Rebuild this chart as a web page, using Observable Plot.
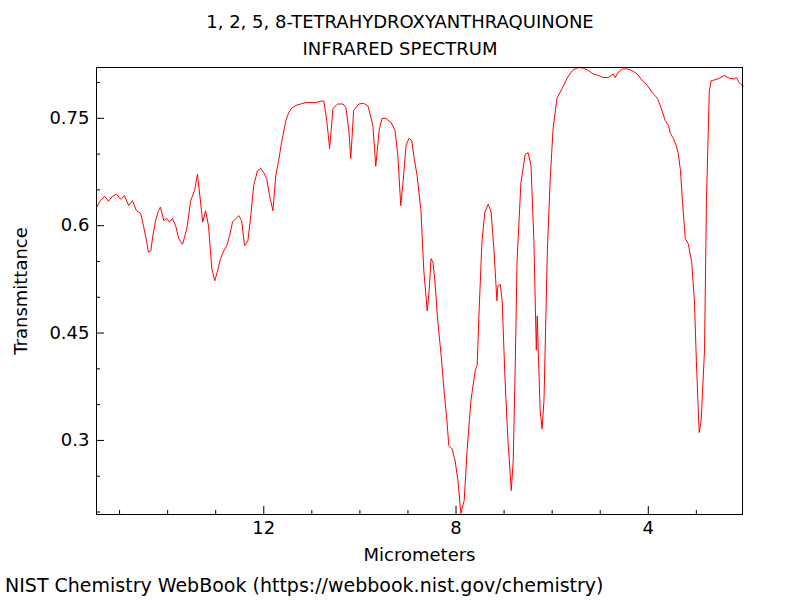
<!DOCTYPE html>
<html><head><meta charset="utf-8">
<script src="https://cdn.jsdelivr.net/npm/d3@7"></script>
<script src="https://cdn.jsdelivr.net/npm/@observablehq/plot@0.6"></script>
<style>
body{margin:0;background:#fff;font-family:"DejaVu Sans",sans-serif;width:800px;}
#title{height:60px;text-align:center;font-size:18px;line-height:27px;padding-top:8px;box-sizing:border-box;}
#cap{font-size:19px;padding-left:5px;margin-top:-6px;white-space:nowrap;}
svg{display:block}
</style></head><body>
<div id="title">1, 2, 5, 8-TETRAHYDROXYANTHRAQUINONE<br>INFRARED SPECTRUM</div>
<div id="chart"></div>
<div id="cap">NIST Chemistry WebBook (https://webbook.nist.gov/chemistry)</div>
<script>
const micrometers=[15.48,15.40,15.31,15.23,15.15,15.06,14.98,14.90,14.81,14.73,14.65,14.56,14.50,14.44,14.40,14.35,14.31,14.25,14.19,14.15,14.08,14.02,13.96,13.90,13.83,13.77,13.69,13.60,13.52,13.44,13.38,13.33,13.27,13.21,13.15,13.08,13.02,12.96,12.90,12.83,12.77,12.71,12.65,12.58,12.52,12.46,12.40,12.33,12.27,12.21,12.13,12.06,12.00,11.94,11.88,11.81,11.75,11.69,11.63,11.54,11.48,11.42,11.33,11.23,11.13,11.02,10.92,10.81,10.75,10.69,10.63,10.56,10.46,10.35,10.29,10.23,10.19,10.13,10.02,9.92,9.83,9.73,9.67,9.60,9.54,9.46,9.35,9.27,9.21,9.15,9.10,9.04,8.98,8.92,8.88,8.81,8.73,8.67,8.60,8.56,8.52,8.48,8.44,8.38,8.31,8.25,8.19,8.15,8.08,8.02,7.96,7.90,7.83,7.77,7.69,7.60,7.56,7.52,7.46,7.40,7.33,7.27,7.21,7.15,7.13,7.08,7.04,6.98,6.92,6.85,6.81,6.77,6.73,6.65,6.56,6.50,6.44,6.38,6.33,6.31,6.29,6.25,6.21,6.17,6.10,6.04,5.98,5.90,5.79,5.69,5.58,5.46,5.35,5.25,5.15,5.04,4.94,4.83,4.73,4.69,4.63,4.54,4.44,4.35,4.23,4.13,4.02,3.92,3.81,3.73,3.65,3.58,3.54,3.48,3.42,3.38,3.33,3.29,3.23,3.17,3.10,3.04,3.00,2.96,2.94,2.90,2.83,2.79,2.73,2.69,2.65,2.52,2.42,2.31,2.21,2.17,2.10,2.02];
const transmittance=[0.626,0.635,0.641,0.634,0.641,0.644,0.637,0.642,0.628,0.635,0.621,0.617,0.599,0.579,0.563,0.565,0.585,0.607,0.621,0.626,0.607,0.610,0.605,0.610,0.599,0.582,0.574,0.596,0.635,0.649,0.672,0.642,0.605,0.621,0.600,0.540,0.523,0.537,0.554,0.565,0.572,0.586,0.605,0.610,0.614,0.607,0.572,0.579,0.614,0.656,0.677,0.680,0.674,0.666,0.642,0.621,0.670,0.691,0.716,0.747,0.758,0.764,0.768,0.770,0.772,0.772,0.772,0.774,0.774,0.747,0.708,0.764,0.770,0.770,0.765,0.733,0.694,0.761,0.770,0.771,0.767,0.740,0.683,0.733,0.750,0.750,0.744,0.733,0.698,0.628,0.663,0.712,0.722,0.719,0.698,0.670,0.621,0.537,0.481,0.509,0.554,0.549,0.523,0.467,0.419,0.370,0.328,0.293,0.288,0.272,0.244,0.198,0.216,0.286,0.356,0.398,0.405,0.481,0.579,0.619,0.630,0.619,0.565,0.495,0.516,0.518,0.495,0.384,0.300,0.230,0.272,0.398,0.551,0.660,0.700,0.702,0.684,0.579,0.426,0.474,0.426,0.342,0.316,0.356,0.565,0.666,0.736,0.778,0.792,0.806,0.817,0.821,0.820,0.817,0.812,0.810,0.807,0.807,0.812,0.807,0.814,0.819,0.819,0.817,0.812,0.803,0.796,0.786,0.778,0.764,0.747,0.740,0.729,0.722,0.712,0.702,0.677,0.635,0.582,0.575,0.551,0.495,0.412,0.342,0.311,0.328,0.426,0.635,0.789,0.803,0.803,0.806,0.810,0.806,0.805,0.807,0.799,0.795];
const xMajor=[12,8,4];
const xMinor=[15,14,13,11,10,9,7,6,5,3];
const yMajor=[0.3,0.45,0.6,0.75];
const yMinor=[0.2,0.25,0.35,0.4,0.5,0.55,0.65,0.7,0.8];
const data=micrometers.map((m,i)=>({m,t:transmittance[i]}));
const plot=Plot.plot({
  width:800,height:520,marginLeft:96,marginRight:58,marginTop:7,marginBottom:66,
  style:{fontFamily:"DejaVu Sans",color:"#000"},
  x:{domain:[15.48,2.04],label:null},
  y:{domain:[0.1965,0.821],label:null},
  marks:[
    Plot.line(data,{x:"m",y:"t",stroke:"red",strokeWidth:1}),
    Plot.axisX({ticks:xMajor,tickSize:-8,tickPadding:15,tickFormat:d=>d,fontSize:18,label:"Micrometers",labelAnchor:"center",labelArrow:"none",labelOffset:46}),
    Plot.axisX({ticks:xMinor,tickSize:-4,tickFormat:()=>"",label:null}),
    Plot.axisY({ticks:yMajor,tickSize:-8,tickPadding:15,tickFormat:d=>String(d),fontSize:18,label:"Transmittance",labelAnchor:"center",labelArrow:"none",labelOffset:82}),
    Plot.axisY({ticks:yMinor,tickSize:-4,tickFormat:()=>"",label:null}),
    Plot.frame({stroke:"#000"})
  ]
});
document.getElementById("chart").append(plot);
</script></body></html>
